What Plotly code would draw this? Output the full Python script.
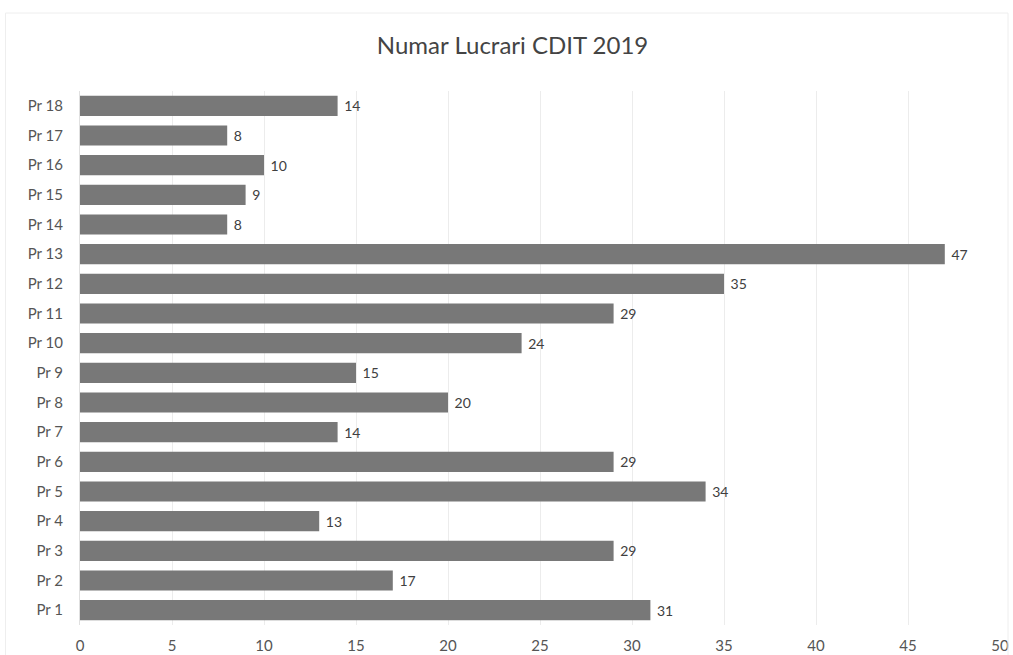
import plotly.graph_objects as go

categories = [f"Pr {i}" for i in range(1, 19)]
values = [31, 17, 29, 13, 34, 29, 14, 20, 15, 24, 29, 35, 47, 8, 9, 10, 8, 14]
x_ticks = [0, 5, 10, 15, 20, 25, 30, 35, 40, 45, 50]

FONT = "Lato, Open Sans, sans-serif"

fig = go.Figure(go.Bar(
    y=categories, x=values, orientation="h",
    marker=dict(color="#787878", line=dict(width=0)),
    text=["\u00a0" + str(v) for v in values], textposition="outside",
    textfont=dict(family=FONT, size=14, color="#404040"),
    cliponaxis=False,
))

fig.update_layout(
    width=1013, height=655,
    paper_bgcolor="white", plot_bgcolor="white",
    margin=dict(l=80, r=13, t=91, b=30),
    bargap=0.32,
    showlegend=False,
    title=dict(text="Numar Lucrari CDIT 2019", x=0.506, xanchor="center", y=0.931, yanchor="middle",
               font=dict(family=FONT, size=24, color="#444444")),
    font=dict(family=FONT, size=14, color="#555555"),
    xaxis=dict(range=[0, 50], tickvals=x_ticks, showgrid=True, gridcolor="#ececec",
               zeroline=False, showline=False, ticks="", ticklabelstandoff=10,
               automargin=False, tickfont=dict(size=15, color="#555555")),
    yaxis=dict(categoryorder="array", categoryarray=categories, showgrid=False,
               zeroline=False, showline=True, linecolor="#e0e0e0", ticks="",
               ticklabelstandoff=13, automargin=False, tickfont=dict(size=15, color="#555555")),
    shapes=[dict(type="rect", xref="paper", yref="paper", x0=-0.081, x1=1.0087, y0=-0.2, y1=1.146,
                 line=dict(color="#eeeeee", width=1))],
)

fig.write_html("out.html",
               config={"displayModeBar": False},
               post_script="document.body.style.margin='0';document.body.style.overflow='hidden';")
